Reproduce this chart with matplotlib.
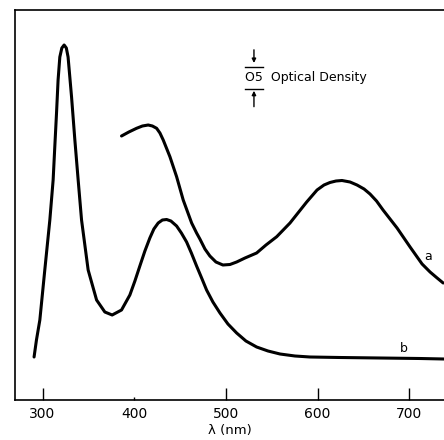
import matplotlib
matplotlib.use("Agg")
import matplotlib.pyplot as plt

# Spectrum b (nm, relative absorbance)
wl_b = [290.8, 293.4, 297.1, 302.5, 308.0, 311.6, 313.4, 315.3, 317.0, 318.9,
        321.1, 323.6, 326.0, 327.9, 331.7, 335.3, 338.9, 342.6, 349.8, 359.0,
        368.0, 376.0, 386.2, 395.3, 400.8, 406.2, 411.7, 417.1, 421.5, 426.2,
        430.8, 435.4, 440.1, 446.3, 451.5, 457.2, 462.4, 468.1, 473.6, 479.0,
        485.9, 493.6, 502.3, 511.8, 521.9, 533.6, 546.0, 559.1, 575.4, 591.8,
        624.6, 668.2, 711.8, 738.0]
abs_b = [0.43, 0.60, 0.80, 1.30, 1.80, 2.20, 2.53, 2.87, 3.20, 3.43,
         3.52, 3.55, 3.52, 3.43, 3.03, 2.60, 2.20, 1.80, 1.30, 1.00,
         0.88, 0.85, 0.90, 1.05, 1.19, 1.34, 1.49, 1.62, 1.71, 1.77,
         1.80, 1.805, 1.79, 1.74, 1.67, 1.58, 1.47, 1.34, 1.22, 1.10,
         0.98, 0.87, 0.76, 0.67, 0.59, 0.53, 0.49, 0.46, 0.44, 0.43,
         0.425, 0.42, 0.415, 0.41]

# Spectrum a
wl_a = [386.2, 394.2, 402.6, 409.0, 415.3, 419.9, 424.5, 428.1, 431.7, 439.0,
        446.3, 453.5, 462.7, 468.1, 471.7, 477.2, 482.6, 489.2, 496.8, 504.5,
        511.8, 520.9, 533.6, 543.8, 555.5, 570.0, 588.2, 599.5, 607.1, 613.6,
        620.2, 626.7, 635.5, 643.1, 650.8, 657.3, 664.4, 671.5, 686.8, 701.0,
        714.1, 722.8, 730.5, 737.1]
abs_a = [2.64, 2.68, 2.717, 2.74, 2.75, 2.74, 2.717, 2.67, 2.60, 2.433,
         2.233, 2.00, 1.77, 1.67, 1.61, 1.51, 1.44, 1.38, 1.35, 1.355,
         1.38, 1.42, 1.47, 1.55, 1.633, 1.77, 1.98, 2.10, 2.15, 2.175,
         2.19, 2.195, 2.18, 2.15, 2.11, 2.06, 1.99, 1.90, 1.72, 1.53,
         1.36, 1.28, 1.22, 1.17]

fig = plt.figure(figsize=(4.44, 4.40), dpi=100)
ax = fig.add_axes([15 / 444, 40 / 440, 429 / 444, 390 / 440])

ax.plot(wl_b, abs_b, color="black", lw=2.2, solid_joinstyle="round", solid_capstyle="round")
ax.plot(wl_a, abs_a, color="black", lw=2.2, solid_joinstyle="round", solid_capstyle="round")

ax.text(721, 1.43, "a", fontsize=9, ha="center", va="center")
ax.text(694, 0.52, "b", fontsize=9, ha="center", va="center")

ax.set_xlim(270, 738)
ax.set_ylim(0, 3.9)
ax.set_xticks([300, 500, 600, 700])
ax.set_xticks([400], labels=["400"], minor=True)
ax.set_yticks([])
ax.tick_params(axis="x", which="major", direction="in", length=9, width=1, labelsize=10, pad=5)
ax.tick_params(axis="x", which="minor", direction="in", length=2.5, width=1, labelsize=10, pad=5)
for s in ["left", "top", "bottom"]:
    ax.spines[s].set_linewidth(1.2)
ax.spines["right"].set_visible(False)
ax.set_xlabel("λ (nm)", fontsize=9.5, labelpad=2)

# 0.5 optical density scale marker
tr = ax.transAxes
bx = 0.557
ax.annotate("", xy=(bx, 0.857), xytext=(bx, 0.905), xycoords=tr,
            arrowprops=dict(arrowstyle="-|>", color="black", lw=1, mutation_scale=6))
ax.plot([bx - 0.02, bx + 0.02], [0.854, 0.854], color="black", lw=1, transform=tr)
ax.annotate("", xy=(bx, 0.800), xytext=(bx, 0.745), xycoords=tr,
            arrowprops=dict(arrowstyle="-|>", color="black", lw=1, mutation_scale=6))
ax.plot([bx - 0.02, bx + 0.02], [0.797, 0.797], color="black", lw=1, transform=tr)
ax.text(0.536, 0.826, "O5  Optical Density", fontsize=9, ha="left", va="center", transform=tr)

fig.savefig("out.png", dpi=100)
